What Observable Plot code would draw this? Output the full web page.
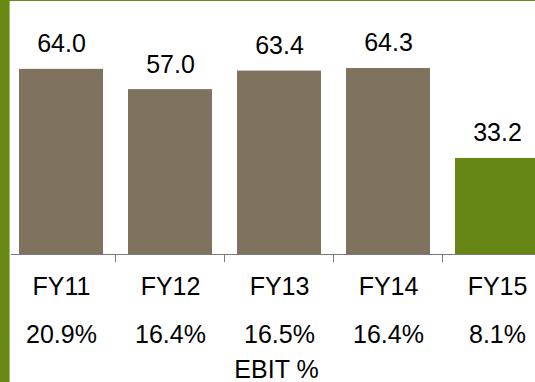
<!DOCTYPE html>
<html>
<head>
<meta charset="utf-8">
<script src="https://cdn.jsdelivr.net/npm/d3@7"></script>
<script src="https://cdn.jsdelivr.net/npm/@observablehq/plot@0.6"></script>
<style>
  html, body { margin: 0; padding: 0; background: #fff; overflow: hidden; }
  #wrap { position: relative; width: 535px; height: 382px; overflow: hidden; }
  #wrap svg { position: absolute; left: 0; top: 0; }
  #leftband { position: absolute; left: 0; top: 0; width: 9px; height: 382px; background: #678a14; border-right: 1px solid #a9bf6a; z-index: 2; }
  #topband { position: absolute; left: 0; top: 0; width: 535px; height: 1px; background: #678a14; z-index: 2; }
</style>
</head>
<body>
<div id="wrap"><div id="leftband"></div><div id="topband"></div></div>
<script>
const years = ["FY11", "FY12", "FY13", "FY14", "FY15"];
const values = [64.0, 57.0, 63.4, 64.3, 33.2];
const ebitPct = ["20.9%", "16.4%", "16.5%", "16.4%", "8.1%"];
const highlight = ["FY15"];
const footLabel = "EBIT %";

const data = years.map((y, i) => ({year: y, value: values[i], pct: ebitPct[i], hl: highlight.includes(y)}));

const font = "'Liberation Sans', Arial, sans-serif";

const chart = Plot.plot({
  width: 535,
  height: 382,
  marginTop: 0,
  marginBottom: 128,
  marginLeft: 11,
  marginRight: 0,
  style: {fontFamily: font, background: "transparent", color: "#000"},
  x: {domain: years, range: [4.5, 554.5], paddingInner: 0.227, paddingOuter: 0.1136, axis: null, label: null},
  y: {domain: [0, 87.8], axis: null},
  marks: [
    Plot.barY(data, {x: "year", y: "value", fill: d => d.hl ? "#668615" : "#7f735f", insetLeft: 0, insetRight: 0}),
    Plot.ruleY([0], {stroke: "#7a7a7a", strokeWidth: 1}),
    Plot.ruleX(years.slice(1), {x: d => d, y1: 0, y2: -2.8, dx: -55, stroke: "#7a7a7a", strokeWidth: 1}),
    Plot.text(data, {x: "year", y: "value", text: d => d.value.toFixed(1), lineAnchor: "bottom", dy: -17, fontSize: 25, fill: "#000"}),
    Plot.axisX({tickSize: 0, tickPadding: 23, fontSize: 25, fill: "#000", label: null}),
    Plot.text(data, {x: "year", text: "pct", frameAnchor: "bottom", lineAnchor: "bottom", dy: 88, fontSize: 25, fill: "#000"}),
    Plot.text([footLabel], {text: d => d, frameAnchor: "bottom", lineAnchor: "bottom", dy: 123, dx: 3, fontSize: 25, fill: "#000"})
  ]
});
document.getElementById("wrap").appendChild(chart);
</script>
</body>
</html>
